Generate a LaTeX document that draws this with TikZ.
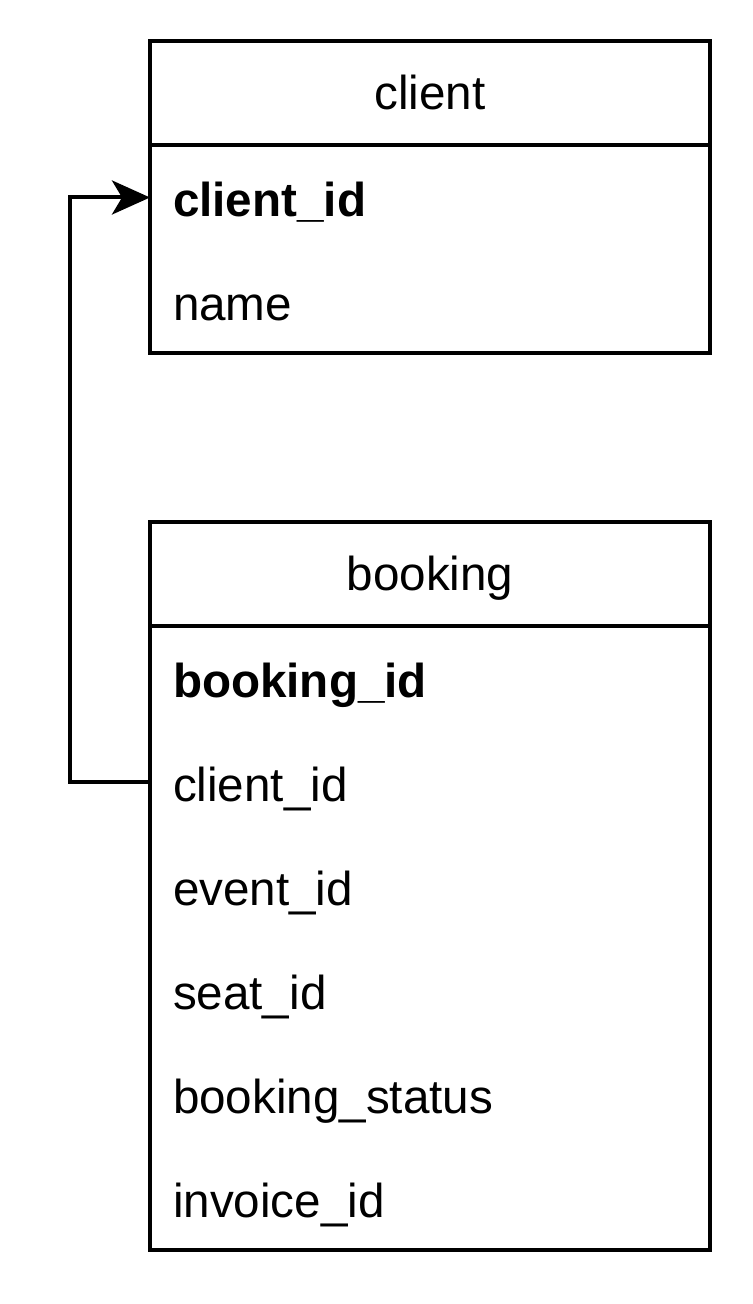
\documentclass[tikz,border=0pt]{standalone}
\usepackage{fontspec}
\setmainfont{Liberation Sans}
\usetikzlibrary{arrows.meta,positioning}
\tikzset{tbl line/.style={line width=2pt},
tbl head/.style={draw, tbl line, minimum width=280pt, minimum height=52pt, inner sep=0pt, outer sep=0pt,
  text height=16pt, text depth=0pt, font=\fontsize{23.8}{28}\selectfont},
tbl row/.style={minimum width=280pt, minimum height=52pt, inner ysep=0pt, inner xsep=11.5pt, outer sep=0pt,
  text width=257pt, align=left, text height=19pt, text depth=0pt, font=\fontsize{23.8}{28}\selectfont},
fk link/.style={tbl line, -{Stealth[length=19pt,width=17pt,inset=5pt]}}}

\begin{document}
\begin{tikzpicture}[x=0.5pt, y=-0.5pt, node distance=0pt]
        \useasboundingbox (0,0) rectangle (752,1304);
        % client table
        \node[tbl head] (client) at (430, 93.5) {client};
        \node[tbl row, below=of client] (cid) {\textbf{client\_id}};
        \node[tbl row, below=of cid] (cname) {name};
        \draw[tbl line] (client.north west) rectangle (cname.south east);

        % booking table
        \node[tbl head] (booking) at (430, 574) {booking};
        \node[tbl row, below=of booking] (bid) {\textbf{booking\_id}};
        \node[tbl row, below=of bid] (bclient) {client\_id};
        \node[tbl row, below=of bclient] (bevent) {event\_id};
        \node[tbl row, below=of bevent] (bseat) {seat\_id};
        \node[tbl row, below=of bseat] (bstatus) {booking\_status};
        \node[tbl row, below=of bstatus] (binvoice) {invoice\_id};
        \draw[tbl line] (booking.north west) rectangle (binvoice.south east);

        \draw[fk link] (bclient.west) -- ++(-80,0) |- (cid.west);
\end{tikzpicture}
\end{document}
